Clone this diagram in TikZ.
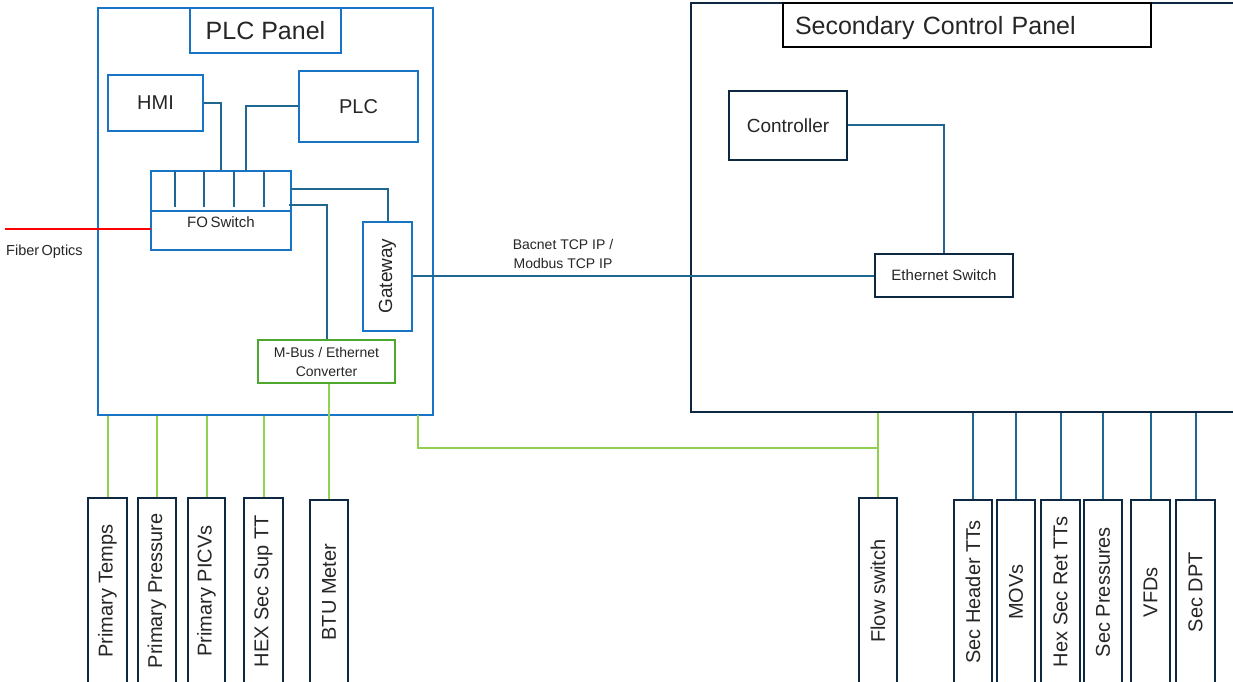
\documentclass[tikz,border=0pt]{standalone}
\usepackage{fontspec}
\setmainfont{Liberation Sans}
\definecolor{panelblue}{HTML}{1874C4}
\definecolor{conn}{HTML}{1F6690}
\definecolor{navy}{HTML}{0E2841}
\definecolor{lgreen}{HTML}{92D050}
\definecolor{dgreen}{HTML}{4EA72E}
\definecolor{txt}{HTML}{262626}
\tikzset{
  bluebox/.style={draw=panelblue, line width=2pt, fill=white, text=txt, inner sep=0pt},
  navybox/.style={draw=navy, line width=2pt, fill=white, text=txt, inner sep=0pt},
  greenbox/.style={draw=dgreen, line width=2pt, fill=white, text=txt, inner sep=0pt},
  devbox/.style={draw=navy, line width=2pt, fill=white, text=txt, inner sep=0pt, rotate=90,
    minimum height=38pt, font=\fontsize{20}{24}\selectfont},
  cline/.style={draw=conn, line width=2pt},
  gline/.style={draw=lgreen, line width=2pt},
  fline/.style={draw=red, line width=2pt},
  lbl/.style={text=txt, inner sep=0pt, align=center}
}
\begin{document}
\begin{tikzpicture}[x=1pt,y=-1pt]
\useasboundingbox[fill=white] (0,0) rectangle (1233,682);

% PLC panel
\node[bluebox, minimum width=335pt, minimum height=407pt] (plcpanel) at (265.5,211.5) {};
\node[bluebox, minimum width=151pt, minimum height=45pt, font=\fontsize{25}{29}\selectfont] (plctitle) at (265.5,30.5) {PLC Panel};
\node[bluebox, minimum width=95pt, minimum height=56pt, font=\fontsize{20}{24}\selectfont] (hmi) at (155.5,103) {HMI};
\node[bluebox, minimum width=119pt, minimum height=71pt, font=\fontsize{20}{24}\selectfont] (plc) at (358.5,106.5) {PLC};
\node[bluebox, minimum width=140pt, minimum height=79pt] (fo) at (221,210.5) {};
\node[lbl, font=\fontsize{15}{18}\selectfont] (folbl) at (221,222) {FO\,Switch};
\node[bluebox, rotate=90, minimum width=109pt, minimum height=49pt, font=\fontsize{19}{23}\selectfont] (gw) at (387.5,276) {Gateway};
\node[greenbox, minimum width=137pt, minimum height=43pt, align=center, font=\fontsize{14}{19}\selectfont] (conv) at (326.5,361.5) {M-Bus / Ethernet\\Converter};

% FO switch internals
\draw[draw=panelblue, line width=2pt] (fo.west |- 0,211) -- (fo.east |- 0,211);
\foreach \px in {175,204,234,264} {
  \draw[cline] (\px,171) -- (\px,207);
}

% connectors in PLC panel
\coordinate (plcport) at (246,171);
\coordinate (fogw) at (291,189);
\coordinate (foconv) at (289,205);
\draw[cline] (hmi.east) -| (fo.north);
\draw[cline] (plc.west) -| (plcport);
\draw[cline] (fogw) -| (gw.east);
\draw[cline] (foconv) -| (conv.north);

% fiber optics
\coordinate (fiberstart) at (5,229);
\coordinate (fiberin) at (151,229);
\draw[fline] (fiberstart) -- (fiberin);
\node[lbl, font=\fontsize{14.5}{17}\selectfont, anchor=west] (fiberlbl) at (6,252) {Fiber\,Optics};

% Secondary panel
\node[draw=navy, line width=2pt, fill=white, minimum width=549pt, minimum height=409pt] (secpanel) at (965.5,207.5) {};
\node[navybox, draw=black, minimum width=368pt, minimum height=44pt, text width=344pt, text height=23pt, text depth=3pt, inner xsep=12pt, align=left, font=\fontsize{25}{29}\selectfont] (sectitle) at (967,25) {Secondary Control Panel};
\node[navybox, minimum width=118pt, minimum height=69pt, font=\fontsize{19}{23}\selectfont] (ctrl) at (788,125.5) {Controller};
\node[navybox, minimum width=138pt, minimum height=43pt, font=\fontsize{15}{18}\selectfont] (esw) at (944,275.5) {Ethernet Switch};
\draw[cline] (ctrl.east) -| (esw.north);

% gateway to ethernet switch
\draw[cline] (gw.south) -- (gw.south -| esw.west);
\node[lbl, font=\fontsize{14}{19}\selectfont] (buslbl) at (563,254) {Bacnet TCP IP /\\Modbus TCP IP};

% bottom devices (PLC side)
\node[devbox, minimum width=186pt, minimum height=39pt] (pt) at (107.5,591) {Primary Temps};
\node[devbox, minimum width=186pt] (pp) at (157,591) {Primary Pressure};
\node[devbox, minimum width=186pt, minimum height=37pt] (ppicv) at (206.5,591) {Primary PICVs};
\node[devbox, minimum width=186pt, minimum height=39pt] (hex) at (263.5,591) {HEX Sec Sup TT};
\node[devbox, minimum width=184pt] (btu) at (329,592) {BTU Meter};
\foreach \n in {pt,pp,ppicv,hex} {
  \draw[gline] (\n.east) -- (\n.east |- plcpanel.south);
}
\draw[gline] (conv.south -| btu.east) -- (btu.east);

% flow switch
\node[devbox, minimum width=186pt] (flow) at (878,591) {Flow switch};
\coordinate (gs) at (418,415);
\draw[gline] (gs) -- ++(0,33) -| (flow.east);
\draw[gline] (flow.east) -- (flow.east |- secpanel.south);

% bottom devices (secondary side)
\node[devbox, minimum width=184pt] (sht) at (973,592) {Sec Header TTs};
\node[devbox, minimum width=184pt] (mov) at (1016,592) {MOVs};
\node[devbox, minimum width=184pt, minimum height=39pt] (hsr) at (1060.5,592) {Hex Sec Ret TTs};
\node[devbox, minimum width=184pt] (sp) at (1103,592) {Sec Pressures};
\node[devbox, minimum width=184pt, minimum height=39pt] (vfd) at (1150.5,592) {VFDs};
\node[devbox, minimum width=184pt, minimum height=39pt] (dpt) at (1195.5,592) {Sec DPT};
\foreach \n in {sht,mov,hsr,sp,vfd,dpt} {
  \draw[cline] (\n.east) -- (\n.east |- secpanel.south);
}
\end{tikzpicture}
\end{document}
